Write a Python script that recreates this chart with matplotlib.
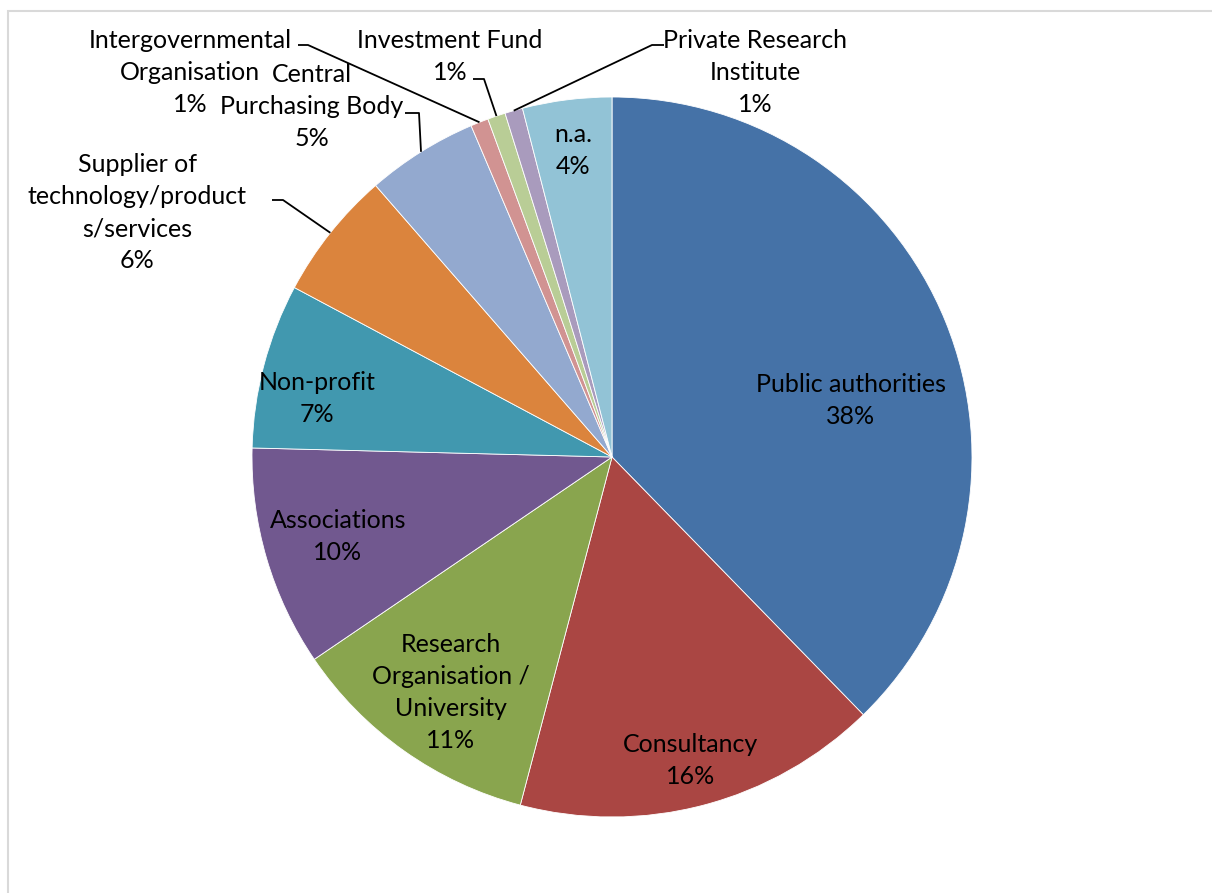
import numpy as np
import matplotlib
matplotlib.use("Agg")
import matplotlib.pyplot as plt
from matplotlib.patches import Rectangle

# Share of organisations by type (%)
categories = [
    "Public authorities",
    "Consultancy",
    "Research\nOrganisation /\nUniversity",
    "Associations",
    "Non-profit",
    "Supplier of\ntechnology/product\ns/services",
    "Central\nPurchasing Body",
    "Intergovernmental\nOrganisation",
    "Investment Fund",
    "Private Research\nInstitute",
    "n.a.",
]
shares = [37.7, 16.4, 11.4, 9.9, 7.4, 5.8, 5.0, 0.8, 0.8, 0.8, 4.0]
colors = ["#4572A7", "#AA4643", "#89A54E", "#71588F", "#4198AF", "#DB843D",
          "#93A9CF", "#D19392", "#B9CD96", "#A99BBD", "#92C3D6"]

W, H = 1212, 893
fig = plt.figure(figsize=(W / 100, H / 100), dpi=100)
ax = fig.add_axes([0, 0, 1, 1])
ax.set_xlim(0, W)
ax.set_ylim(0, H)
ax.set_aspect("equal")
ax.axis("off")

# chart frame
ax.add_patch(Rectangle((7.5, -20), W + 40, H - 11 + 20, fill=False,
                       edgecolor="#D9D9D9", linewidth=1.5))

cx, cy, R = 612, H - 457, 360
wedges, _ = ax.pie(shares, colors=colors, startangle=90, counterclock=False,
                   radius=R, center=(cx, cy),
                   wedgeprops=dict(edgecolor="#FFFFFF", linewidth=0.6))
ax.set_xlim(0, W)
ax.set_ylim(0, H)

font = dict(family="Lato", fontsize=18, color="#000000", ha="center",
            va="center")
LINE = 32  # px between text lines

# label anchor points (pixel coords, origin top-left)
label_xy = [(851, 401), (691, 761), (451, 693), (338, 537), (317, 398),
            (137, 213), (312, 107), (190, 73), (450, 57), (755, 73),
            (573, 150)]
for name, val, (lx, ly) in zip(categories, shares, label_xy):
    lines = f"{name}\n{val:.0f}%".split("\n")
    n = len(lines)
    for k, line in enumerate(lines):
        y = ly + (k - (n - 1) / 2) * LINE
        ax.text(lx, H - y, line, **font)

# leader lines for small slices: text-side elbow points, then slice edge
leaders = {
    5: [(272, 200), (283, 200)],
    6: [(405, 113), (419, 113)],
    7: [(298, 45), (308, 45)],
    8: [(473, 79), (484, 79)],
    9: [(664, 45), (652, 45)],
}
cum = np.concatenate([[0], np.cumsum(shares)]) / sum(shares)
for i, pts in leaders.items():
    mid = (cum[i] + cum[i + 1]) / 2 * 2 * np.pi
    ex, ey = cx + R * np.sin(mid), cy + R * np.cos(mid)
    xs = [p[0] for p in pts] + [ex]
    ys = [H - p[1] for p in pts] + [ey]
    ax.plot(xs, ys, color="#000000", linewidth=1.3, solid_capstyle="butt")

fig.savefig("out.png", dpi=100)
